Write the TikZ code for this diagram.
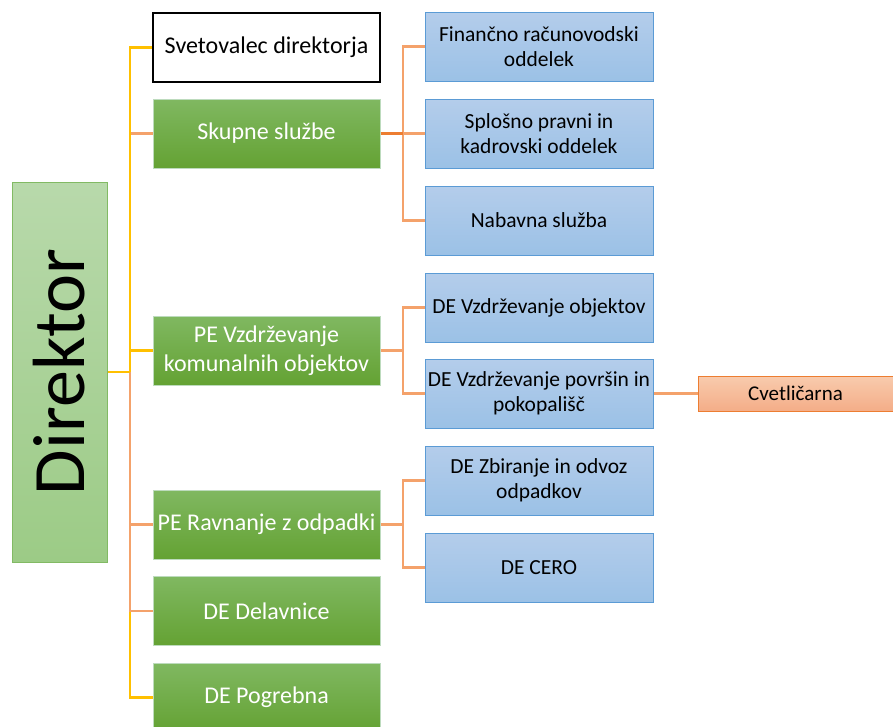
\documentclass[tikz,border=0pt]{standalone}
\usepackage{fontspec}
\setmainfont{Carlito}
\definecolor{yel}{HTML}{FFC000}
\definecolor{orn}{HTML}{F4A26B}
\definecolor{ornd}{HTML}{ED7D31}
\tikzset{
	box/.style={rectangle, minimum width=227pt, minimum height=69pt, inner sep=2pt, align=center},
	greenbox/.style={box, draw=green!30!gray!40!white, line width=1pt, top color={rgb,255:red,128;green,184;blue,97}, bottom color={rgb,255:red,100;green,162;blue,51}, text=white, font=\fontsize{24}{29}\selectfont},
	bluebox/.style={box, minimum width=228pt, draw={rgb,255:red,91;green,155;blue,213}, line width=1pt, top color={rgb,255:red,180;green,205;blue,235}, bottom color={rgb,255:red,155;green,193;blue,230}, font=\fontsize{21.5}{25}\selectfont},
	yline/.style={draw=yel, line width=2.5pt},
	oline/.style={draw=orn, line width=2.5pt},
}
\begin{document}
\begin{tikzpicture}[x=1pt,y=-1pt]
	\useasboundingbox (0,0) rectangle (893,726);
	% top level
	\node (Dir) at (59.5, 372) [rectangle, minimum width=380pt, minimum height=95pt, draw={rgb,255:red,130;green,186;blue,100}, line width=1pt, top color={rgb,255:red,184;green,217;blue,171}, bottom color={rgb,255:red,156;green,203;blue,134}, rotate=90, font=\fontsize{74}{74}\selectfont] {Direktor};
	\node (Svet) at (266.5, 47.5) [box, draw=black, line width=2pt, fill=white, font=\fontsize{24}{28}\selectfont] {Svetovalec direktorja};
	\node (Skup) at (266.5, 133.5) [greenbox] {Skupne službe};
	\node (PEV) at (266.5, 350.5) [greenbox] {PE Vzdrževanje\\komunalnih objektov};
	\node (PER) at (266.5, 524.5) [greenbox] {PE Ravnanje z odpadki};
	\node (Del) at (266.5, 611) [greenbox] {DE Delavnice};
	\node (Pog) at (266.5, 697.5) [greenbox] {DE Pogrebna};
	% units
	\node (Fin) at (539, 46.5) [bluebox] {Finančno računovodski\\oddelek};
	\node (Spl) at (539, 133.5) [bluebox] {Splošno pravni in\\kadrovski oddelek};
	\node (Nab) at (539, 220.5) [bluebox] {Nabavna služba};
	\node (Obj) at (539, 307.5) [bluebox] {DE Vzdrževanje objektov};
	\node (Pov) at (539, 393.5) [bluebox] {DE Vzdrževanje površin in\\pokopališč};
	\node (Zbi) at (539, 480.5) [bluebox] {DE Zbiranje in odvoz\\odpadkov};
	\node (Cero) at (539, 567.5) [bluebox] {DE CERO};
	\node (Cvet) at (795.5, 393.5) [rectangle, minimum width=195pt, minimum height=35pt, draw=ornd, line width=1pt, top color={rgb,255:red,248;green,203;blue,173}, bottom color={rgb,255:red,244;green,173;blue,136}, font=\fontsize{21}{24}\selectfont] {Cvetličarna};
	% trunk lines
	\coordinate (T) at (130, 0);
	\coordinate (U) at (403, 0);
	\draw[yline] (Dir.south -| T) |- (Pog.west);
	\draw[oline] (Dir.south -| T) |- (Skup.west);
	\draw[oline] (Dir.south -| T) |- (PER.west);
	\draw[oline] (Dir.south -| T) |- (Del.west);
	\draw[yline] (Dir.south -| T) |- (Svet.west);
	\draw[yline] (Dir.south -| T) |- (PEV.west);
	\draw[yline] (Dir.south) -- (Dir.south -| T);
	% branch lines
	\draw[oline] (Skup.east) -- (Skup.east -| U) |- (Fin.west);
	\draw[oline] (Skup.east -| U) |- (Nab.west);
	\draw[oline] (Skup.east -| U) -- (Spl.west);
	\draw[draw=ornd, line width=2.5pt] (Skup.east) -- (Skup.east -| U);
	\draw[oline] (PEV.east) -- (PEV.east -| U) |- (Obj.west);
	\draw[oline] (PEV.east -| U) |- (Pov.west);
	\draw[oline] (PER.east) -- (PER.east -| U) |- (Zbi.west);
	\draw[oline] (PER.east -| U) |- (Cero.west);
	\draw[oline] (Pov.east) -- (Cvet.west);
\end{tikzpicture}
\end{document}
